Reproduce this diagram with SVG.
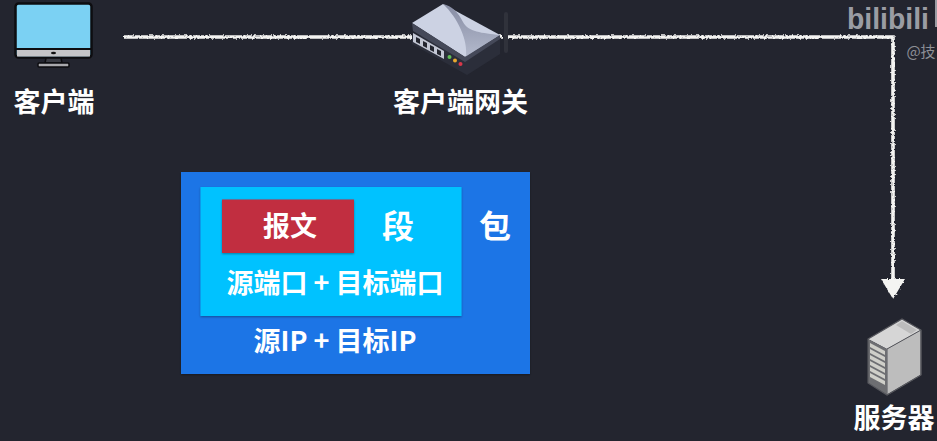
<svg xmlns="http://www.w3.org/2000/svg" width="937" height="441" viewBox="0 0 937 441">
<style>
text{font-family:"Noto Sans CJK SC","Noto Sans",sans-serif;font-weight:700;fill:#fff;text-anchor:middle}
.lbl{font-size:27px}
.in{font-size:27px;font-weight:700}
.big{font-size:32px}
.wire{fill:none;stroke:#f4f4f2;stroke-width:3.6;filter:url(#rough)}
</style>
<defs>
<linearGradient id="wedge" x1="0" y1="0" x2="0" y2="1"><stop offset="0" stop-color="#868ca3"/><stop offset="1" stop-color="#b4bacd"/></linearGradient>
<filter id="rough" x="0" y="0" width="937" height="441" filterUnits="userSpaceOnUse" primitiveUnits="userSpaceOnUse">
<feTurbulence type="fractalNoise" baseFrequency="0.5" numOctaves="2" seed="4"/>
<feDisplacementMap in="SourceGraphic" scale="3.500"/>
</filter>
<filter id="sh" x="-5%" y="-5%" width="110%" height="110%"><feDropShadow dx="0" dy="1" stdDeviation="1" flood-color="#000" flood-opacity=".35"/></filter>
</defs>
<rect width="937" height="441" fill="#23252f"/>
<g id="watermark">
<text x="888" y="29" style="font-family:'Liberation Sans',sans-serif;font-size:30px;font-weight:700;fill:#9a9ca3;text-anchor:middle" textLength="82" lengthAdjust="spacingAndGlyphs">bilibili</text>
<rect x="935" y="0" width="2" height="27" fill="#9a9ca3"/>
<text x="921" y="57" style="font-size:15px;font-weight:400;fill:#8d8f96">@技</text>
</g>
<g id="connectors">
<path class="wire" d="M124 37H412"/>
<path class="wire" d="M499 36H502M508 37H893V282"/>
<path d="M881 279L905 279L893 299Z" fill="#f4f4f2" filter="url(#rough)"/>
</g>
<g id="client">
<rect x="15.500" y="3.500" width="76" height="54" rx="3" fill="#7bd1f3" stroke="#0d0d10" stroke-width="2.500"/>
<rect x="17" y="50" width="73" height="6.500" fill="#c5c5c8"/>
<rect x="16" y="48" width="75" height="2" fill="#0d0d10"/>
<ellipse cx="53.500" cy="53" rx="2.500" ry="1.200" fill="#111"/>
<path d="M46 58H61L62 63H45Z" fill="#3a3c44" stroke="#0d0d10" stroke-width="1.500"/>
<rect x="38" y="63" width="31" height="4" rx="1" fill="#a9a9ad" stroke="#0d0d10" stroke-width="1.500"/>
<text class="lbl" x="54" y="112">客户端</text>
</g>
<g id="gateway">
<rect x="504" y="12" width="4" height="41" rx="2" fill="#30323b"/>
<path d="M412 36L412 44L467 75L500 54V36Z" fill="#2b2e3a"/>
<path d="M412 23L443 4L500 35L465 57Z" fill="#ccd2e3"/>
<path d="M443 4C452 6 458 12 463 22C468 32 482 33 500 35L466 57C468 40 458 18 443 4Z" fill="url(#wedge)"/>
<path d="M412 23L465 57L500 35L500 39L465 62L413 31Z" fill="#454959"/>
<path d="M413 33L444 51L444 59L413 42Z" fill="#c3c7d4"/>
<path d="M416 37L420 39V44L416 42ZM423 41L427 43V48L423 46ZM430 45L434 47V52L430 50ZM437 49L441 51V56L437 54Z" fill="#24262f"/>
<circle cx="449.500" cy="57" r="2" fill="#5fbf55"/>
<circle cx="455" cy="60.500" r="2" fill="#e8a92e"/>
<circle cx="460.500" cy="64" r="2" fill="#d8384a"/>
<text class="lbl" x="460.500" y="112">客户端网关</text>
</g>
<g id="packet">
<rect x="181" y="172" width="349" height="202" fill="#1e74e6" filter="url(#sh)"/>
<text class="big" x="495" y="238">包</text>
<text class="in" x="335" y="351">源IP + 目标IP</text>
</g>
<g id="segment">
<rect x="200.500" y="187" width="261" height="129" fill="#00c2ff" filter="url(#sh)"/>
<text class="big" x="398" y="238">段</text>
<text class="in" x="335" y="293">源端口 + 目标端口</text>
</g>
<g id="message">
<rect x="222" y="199.500" width="132" height="53.500" fill="#c12e41" filter="url(#sh)"/>
<text class="lbl" x="290" y="236">报文</text>
</g>
<g id="server">
<path d="M868 339L902 319L921 330L887 349Z" fill="#d6d6d6"/>
<path d="M896 325L902 321L917 330L911 334Z" fill="#bcbcbc"/>
<path d="M887 349L921 330V375L887 395Z" fill="#bdbdbd" stroke="#55565c" stroke-width="1"/>
<path d="M868 339L887 349V395L868 383Z" fill="#6d6e72"/>
<path d="M870 343L885 351V355L870 347ZM870 349L885 357V361L870 353ZM870 355L885 363V367L870 359ZM870 361L885 369V373L870 365ZM870 367L885 375V379L870 371ZM870 373L885 381V385L870 377Z" fill="#cfcfc9"/>
<path d="M868 339L902 319L921 330V375L887 395L868 383Z" fill="none" stroke="#55565c" stroke-width="1.200"/>
<text class="lbl" x="894" y="428">服务器</text>
</g>
</svg>
